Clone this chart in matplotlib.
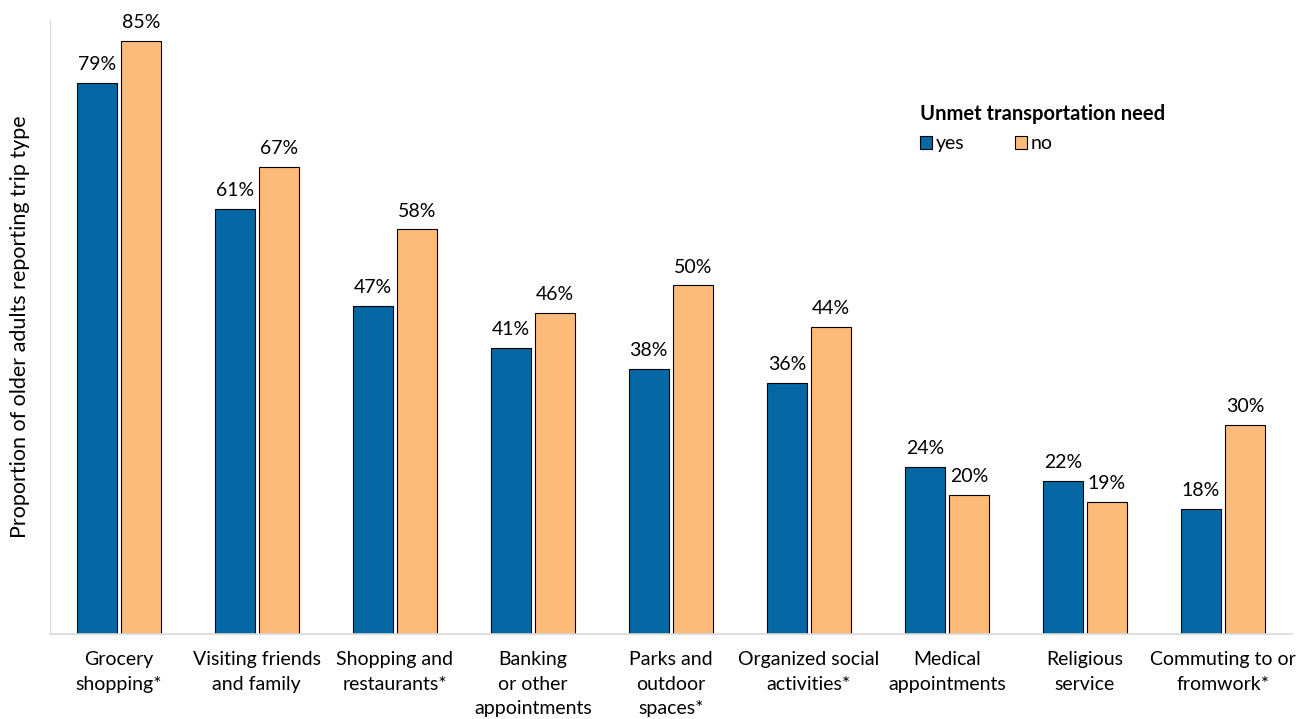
import numpy as np
import matplotlib.pyplot as plt

plt.rcParams['font.family'] = ['Lato', 'DejaVu Sans']

# trip types and reported shares (%)
categories = ['Grocery\nshopping*', 'Visiting friends\nand family', 'Shopping and\nrestaurants*',
              'Banking\nor other\nappointments', 'Parks and\noutdoor\nspaces*',
              'Organized social\nactivities*', 'Medical\nappointments', 'Religious\nservice',
              'Commuting to or\nfromwork*']
yes_vals = [79, 61, 47, 41, 38, 36, 24, 22, 18]
no_vals = [85, 67, 58, 46, 50, 44, 20, 19, 30]

blue = '#0567A3'
orange = '#FDBB79'

fig = plt.figure(figsize=(13.09, 7.19), dpi=100)
ax = fig.add_axes([0.038, 0.118, 0.949, 0.854])

x = np.arange(len(categories))
w = 0.29
gap = 0.015
b1 = ax.bar(x - w / 2 - gap, yes_vals, w, color=blue, edgecolor='black', linewidth=0.8, label='yes')
b2 = ax.bar(x + w / 2 + gap, no_vals, w, color=orange, edgecolor='black', linewidth=0.8, label='no')

for bars, vals in [(b1, yes_vals), (b2, no_vals)]:
    for b, v in zip(bars, vals):
        ax.text(b.get_x() + b.get_width() / 2, v + 1.4, f'{v}%', ha='center', va='bottom', fontsize=14)

ax.set_xlim(-0.5, len(categories) - 0.5)
ax.set_ylim(0, 88)
ax.set_xticks(x)
ax.set_xticklabels(categories, fontsize=14, va='top', linespacing=1.55)
ax.tick_params(axis='x', length=0, pad=12)
ax.set_yticks([])
ax.set_ylabel('Proportion of older adults reporting trip type', fontsize=15.5)
ax.yaxis.set_label_coords(-0.016, 0.5)

for s in ['top', 'right']:
    ax.spines[s].set_visible(False)
ax.spines['left'].set_color('#d9d9d9')
ax.spines['bottom'].set_color('#d9d9d9')
ax.spines['bottom'].set_linewidth(1.2)

leg = ax.legend(title='Unmet transportation need', loc='upper left', bbox_to_anchor=(0.69, 0.885),
                ncol=2, frameon=False, fontsize=14, handlelength=0.6, handleheight=0.6,
                handletextpad=0.2, columnspacing=2.6, alignment='left', borderpad=0.2)
leg.get_title().set_fontweight('bold')
leg.get_title().set_fontsize(14.5)
leg._legend_box.sep = 8

fig.savefig('out.png', dpi=100)
